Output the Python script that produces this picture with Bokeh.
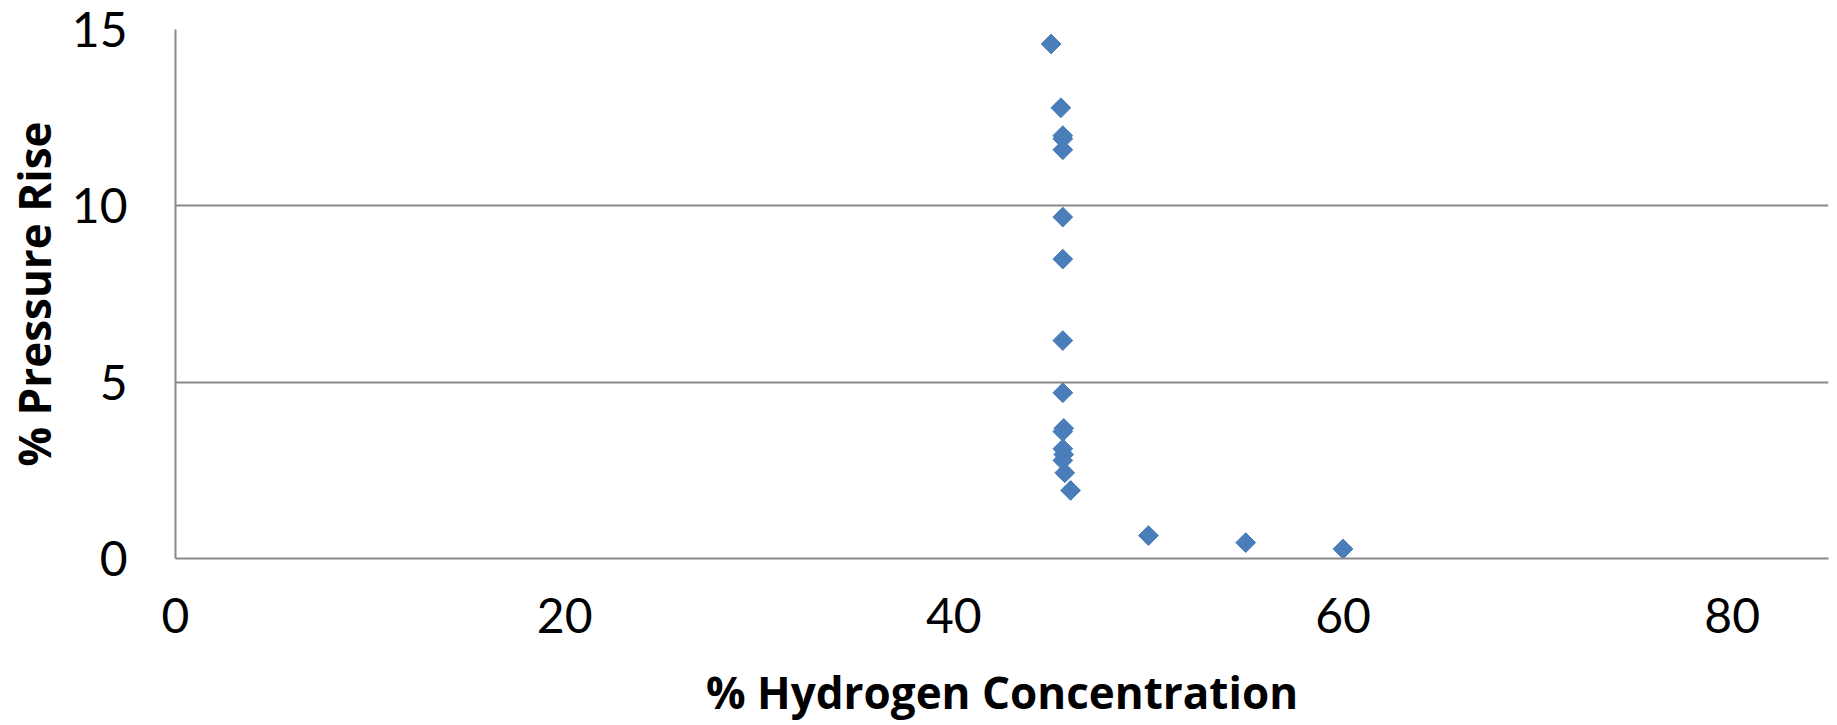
from bokeh.plotting import figure
from bokeh.embed import file_html
from bokeh.resources import INLINE
from bokeh.models import Range1d, FixedTicker
import math

# Data
h2_conc = [45.0, 45.5, 45.6, 45.6, 45.6, 45.6, 45.6, 45.6, 45.6, 45.65, 45.6,
           45.6, 45.65, 45.6, 45.7, 46.0, 50.0, 55.0, 60.0]
pressure_rise = [14.59, 12.78, 11.99, 11.9, 11.59, 9.68, 8.49, 6.18, 4.70, 3.69, 3.60,
                 3.11, 2.95, 2.78, 2.43, 1.93, 0.65, 0.45, 0.27]
x_ticks = [0, 20, 40, 60, 80]
y_ticks = [0, 5, 10, 15]

p = figure(width=1837, height=725, output_backend="svg", toolbar_location=None,
           x_range=Range1d(0, 84.95), y_range=Range1d(0, 15),
           min_border_left=175, min_border_right=9, min_border_top=29, min_border_bottom=167)
p.outline_line_color = None
p.background_fill_color = "white"
p.border_fill_color = "white"

p.scatter(h2_conc, pressure_rise, marker="square", angle=math.pi / 4, size=14,
          fill_color="#4A7EBB", line_color="#4A7EBB", line_width=1)

grid_color = "#898989"
p.xgrid.grid_line_color = None
p.ygrid.grid_line_color = grid_color
p.ygrid.grid_line_width = 2

p.xaxis.ticker = FixedTicker(ticks=x_ticks)
p.yaxis.ticker = FixedTicker(ticks=y_ticks)
for ax in (p.xaxis, p.yaxis):
    ax.axis_line_color = grid_color
    ax.axis_line_width = 2
    ax.major_tick_line_color = None
    ax.minor_tick_line_color = None
    ax.major_tick_out = 0
    ax.major_tick_in = 0
    ax.major_label_text_font = "Lato"
    ax.major_label_text_font_size = "48px"
    ax.major_label_text_color = "black"
    ax.major_label_text_line_height = 1.0
    ax.axis_label_text_font = "Open Sans"
    ax.axis_label_text_font_style = "bold"
    ax.axis_label_text_font_size = "44px"
    ax.axis_label_text_color = "black"
    ax.axis_label_text_line_height = 1.0

p.xaxis.axis_label = "% Hydrogen Concentration"
p.yaxis.axis_label = "% Pressure Rise"
p.xaxis.major_label_standoff = 39
p.yaxis.major_label_standoff = 48
p.xaxis.axis_label_standoff = 26
p.yaxis.axis_label_standoff = 5

open("out.html", "w").write(file_html(p, INLINE))
